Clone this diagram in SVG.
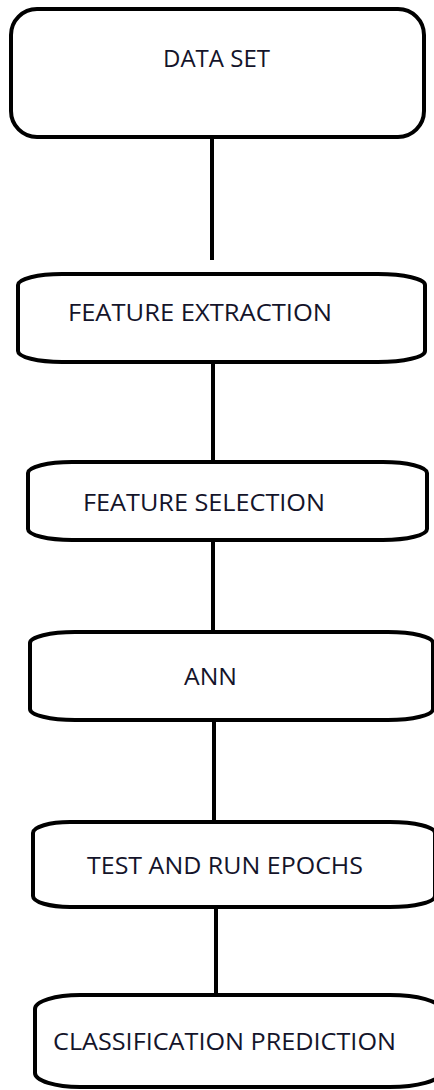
<svg xmlns="http://www.w3.org/2000/svg" width="434" height="1090" viewBox="0 0 434 1090">
  <style>
    .box { fill: #ffffff; stroke: #000000; stroke-width: 4; }
    .link { stroke: #000000; stroke-width: 4; fill: none; }
    .label { font-family: "Open Sans", "Liberation Sans", sans-serif; font-size: 23px; fill: #14142a; }
  </style>
  <rect x="0" y="0" width="434" height="1090" fill="#ffffff"/>

  <!-- connectors -->
  <g id="connectors">
    <line class="link" x1="212" y1="137" x2="212" y2="260"/>
    <line class="link" x1="213" y1="360" x2="213" y2="464"/>
    <line class="link" x1="213" y1="540" x2="213" y2="632"/>
    <line class="link" x1="214" y1="720" x2="214" y2="822"/>
    <line class="link" x1="216" y1="907" x2="216" y2="996"/>
  </g>

  <g id="data-set">
    <rect class="box" x="11" y="9" width="413" height="128" rx="26" ry="26"/>
    <text class="label" x="163" y="67" textLength="107" lengthAdjust="spacingAndGlyphs">DATA SET</text>
  </g>

  <g id="feature-extraction">
    <path class="box" d="M62 274 H378 A47 11 0 0 1 425 285 V351 A47 11 0 0 1 378 362 H62 A44 11 0 0 1 18 351 V285 A44 11 0 0 1 62 274 Z"/>
    <text class="label" x="68" y="321" textLength="264" lengthAdjust="spacingAndGlyphs">FEATURE EXTRACTION</text>
  </g>

  <g id="feature-selection">
    <path class="box" d="M72 462 H383 A44 11 0 0 1 427 473 V529 A44 11 0 0 1 383 540 H72 A44 11 0 0 1 28 529 V473 A44 11 0 0 1 72 462 Z"/>
    <text class="label" x="83" y="511" textLength="242" lengthAdjust="spacingAndGlyphs">FEATURE SELECTION</text>
  </g>

  <g id="ann">
    <path class="box" d="M75 632 H388 A45 11 0 0 1 433 643 V709 A45 11 0 0 1 388 720 H75 A45 11 0 0 1 30 709 V643 A45 11 0 0 1 75 632 Z"/>
    <text class="label" x="184" y="685" textLength="53" lengthAdjust="spacingAndGlyphs">ANN</text>
  </g>

  <g id="test-and-run-epochs">
    <path class="box" d="M70 822 H390 A45 11 0 0 1 435 833 V896 A45 11 0 0 1 390 907 H70 A37 11 0 0 1 33 896 V833 A37 11 0 0 1 70 822 Z"/>
    <text class="label" x="87" y="874" textLength="276" lengthAdjust="spacingAndGlyphs">TEST AND RUN EPOCHS</text>
  </g>

  <g id="classification-prediction">
    <path class="box" d="M80 995 H390 A50 14 0 0 1 440 1009 V1073 A50 14 0 0 1 390 1087 H80 A45 14 0 0 1 35 1073 V1009 A45 14 0 0 1 80 995 Z"/>
    <text class="label" x="53" y="1050" textLength="343" lengthAdjust="spacingAndGlyphs">CLASSIFICATION PREDICTION</text>
  </g>
</svg>
